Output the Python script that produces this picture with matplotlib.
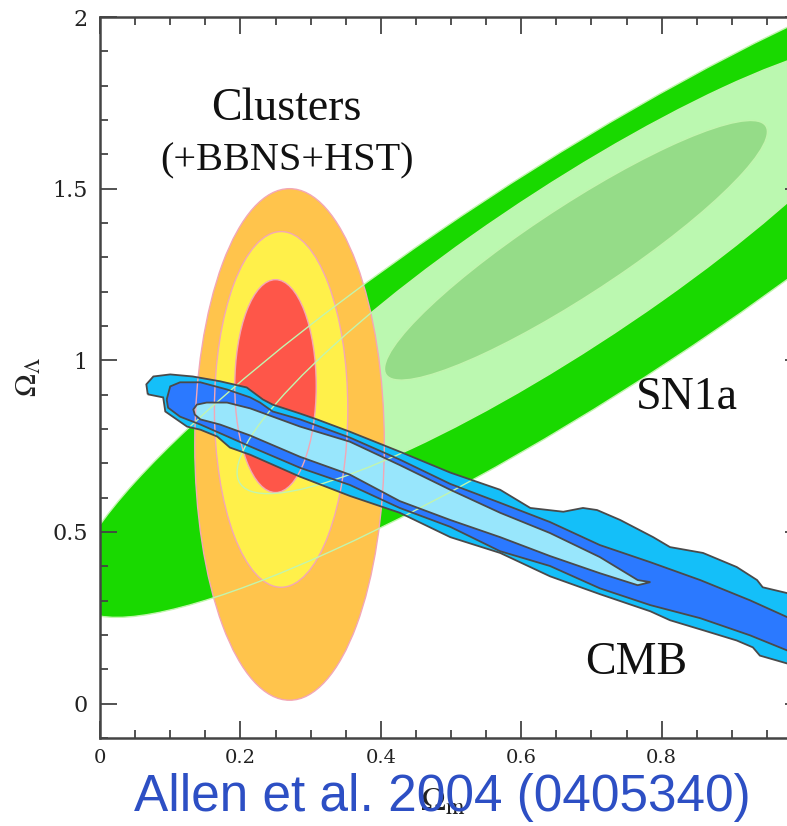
import matplotlib

matplotlib.use("Agg")
import matplotlib.pyplot as plt
from matplotlib.patches import Ellipse, Polygon
from matplotlib.ticker import MultipleLocator

# SN1a confidence regions (outer, middle, inner) as ellipses
SN_CX = [0.68, 0.665, 0.678]
SN_CY = [1.232, 1.268, 1.3205]
SN_SEMI_MAJOR = [1.192, 0.790, 0.457]
SN_SEMI_MINOR = [0.244, 0.165, 0.092]
SN_ANGLE = [54.5, 55.3, 55.0]
SN_COLORS = ["#19d900", "#bbf8b0", "#95dc88"]

# Cluster (+BBNS+HST) regions: vertical ellipses
CL_CX = [0.27, 0.258, 0.25]
CL_CY = [0.755, 0.857, 0.925]
CL_HALF_W = [0.135, 0.095, 0.058]
CL_HALF_H = [0.745, 0.518, 0.31]
CL_COLORS = ["#ffc44c", "#fff04a", "#fe5649"]

# CMB contours
CMB_OUTER_X = [0.068, 0.066, 0.076, 0.100, 0.132, 0.171, 0.209, 0.232, 0.246, 0.285,
               0.309, 0.356, 0.427, 0.499, 0.570, 0.613, 0.660, 0.688, 0.708, 0.741,
               0.788, 0.812, 0.859, 0.907, 0.936, 0.944, 0.979, 1.004, 1.004, 0.979,
               0.940, 0.930, 0.907, 0.859, 0.812, 0.784, 0.712, 0.641, 0.570, 0.499,
               0.427, 0.356, 0.285, 0.214, 0.185, 0.167, 0.143, 0.124, 0.093, 0.090]
CMB_OUTER_Y = [0.901, 0.930, 0.953, 0.959, 0.953, 0.939, 0.921, 0.886, 0.871, 0.845,
               0.828, 0.792, 0.734, 0.673, 0.623, 0.570, 0.559, 0.570, 0.564, 0.535,
               0.485, 0.456, 0.439, 0.398, 0.360, 0.339, 0.322, 0.295, 0.094, 0.117,
               0.140, 0.164, 0.184, 0.214, 0.243, 0.269, 0.319, 0.371, 0.439, 0.485,
               0.556, 0.605, 0.661, 0.725, 0.746, 0.778, 0.798, 0.807, 0.851, 0.892]

CMB_MID_X = [0.095, 0.100, 0.114, 0.143, 0.181, 0.214, 0.228, 0.246, 0.285, 0.356,
             0.427, 0.499, 0.570, 0.641, 0.712, 0.784, 0.855, 0.926, 0.979, 1.004,
             1.004, 0.979, 0.926, 0.855, 0.784, 0.712, 0.641, 0.570, 0.499, 0.427,
             0.356, 0.285, 0.214, 0.143, 0.124, 0.114, 0.097]
CMB_MID_Y = [0.886, 0.924, 0.936, 0.936, 0.915, 0.892, 0.877, 0.851, 0.828, 0.775,
             0.711, 0.640, 0.585, 0.529, 0.462, 0.412, 0.360, 0.301, 0.252, 0.225,
             0.135, 0.155, 0.199, 0.249, 0.287, 0.336, 0.401, 0.444, 0.515, 0.570,
             0.637, 0.687, 0.749, 0.813, 0.828, 0.836, 0.862]

CMB_INNER_X = [0.133, 0.138, 0.152, 0.181, 0.214, 0.285, 0.356, 0.427, 0.499, 0.570,
               0.641, 0.712, 0.766, 0.784, 0.766, 0.712, 0.641, 0.570, 0.499, 0.427,
               0.356, 0.285, 0.214, 0.171, 0.143, 0.135]
CMB_INNER_Y = [0.857, 0.871, 0.877, 0.877, 0.860, 0.807, 0.763, 0.695, 0.623, 0.556,
               0.497, 0.427, 0.360, 0.354, 0.345, 0.380, 0.430, 0.485, 0.535, 0.590,
               0.667, 0.719, 0.781, 0.813, 0.828, 0.842]
CMB_COLORS = ["#14bff9", "#2b79ff", "#98e6fc"]

LABELS = ["Clusters", "(+BBNS+HST)", "SN1a", "CMB"]
LABEL_X = [0.266, 0.266, 0.836, 0.764]
LABEL_Y = [1.733, 1.58, 0.892, 0.12]
LABEL_SIZE = [33, 29, 33, 33]

plt.rcParams["mathtext.fontset"] = "stix"

fig = plt.figure(figsize=(7.87, 8.26), dpi=100)
ax = fig.add_axes([100 / 787, 88 / 826, 702 / 787, 721 / 826])
ax.set_xlim(0, 1)
ax.set_ylim(-0.1, 2.0)

sn_patches = []
for cx, cy, a, b, ang, col in zip(SN_CX, SN_CY, SN_SEMI_MAJOR, SN_SEMI_MINOR, SN_ANGLE, SN_COLORS):
    ax.add_patch(Ellipse((cx, cy), 2 * a, 2 * b, angle=ang, facecolor=col, edgecolor="none", zorder=1))
    sn_patches.append((cx, cy, a, b, ang))

for cx, cy, w, h, col in zip(CL_CX, CL_CY, CL_HALF_W, CL_HALF_H, CL_COLORS):
    ax.add_patch(Ellipse((cx, cy), 2 * w, 2 * h, facecolor=col, edgecolor="none", zorder=2))

cmb = [(CMB_OUTER_X, CMB_OUTER_Y), (CMB_MID_X, CMB_MID_Y), (CMB_INNER_X, CMB_INNER_Y)]
for (xs, ys), col in zip(cmb, CMB_COLORS):
    ax.add_patch(Polygon(list(zip(xs, ys)), closed=True, facecolor=col, edgecolor="none", zorder=3))

# contour outlines drawn over all fills
for cx, cy, w, h in zip(CL_CX, CL_CY, CL_HALF_W, CL_HALF_H):
    ax.add_patch(Ellipse((cx, cy), 2 * w, 2 * h, facecolor="none", edgecolor="#f3a7b6", lw=1.0, zorder=4))
for cx, cy, a, b, ang in sn_patches:
    ax.add_patch(Ellipse((cx, cy), 2 * a, 2 * b, angle=ang, facecolor="none", edgecolor="#c2f5ae", lw=1.0, zorder=4))
for xs, ys in cmb:
    ax.add_patch(Polygon(list(zip(xs, ys)), closed=True, facecolor="none", edgecolor="#4a4a4a", lw=1.3, zorder=5))

for txt, x, y, s in zip(LABELS, LABEL_X, LABEL_Y, LABEL_SIZE):
    ax.text(x, y, txt, ha="center", va="center", fontsize=s, family="Liberation Serif", color="#111111", zorder=6)

ax.xaxis.set_major_locator(MultipleLocator(0.2))
ax.xaxis.set_minor_locator(MultipleLocator(0.05))
ax.yaxis.set_major_locator(MultipleLocator(0.5))
ax.yaxis.set_minor_locator(MultipleLocator(0.1))
ax.set_xticks([0, 0.2, 0.4, 0.6, 0.8])
ax.set_xticklabels(["0", "0.2", "0.4", "0.6", "0.8"])
ax.set_yticks([0, 0.5, 1, 1.5, 2])
ax.set_yticklabels(["0", "0.5", "1", "1.5", "2"])
ax.tick_params(which="both", direction="in", top=True, right=True, colors="#444444",
               labelcolor="#222222", labelsize=16, width=1.3)
ax.tick_params(which="major", length=12)
ax.tick_params(which="minor", length=6)
ax.tick_params(axis="x", pad=8, labelsize=14)
ax.tick_params(axis="y", pad=9)
for lab in ax.get_xticklabels() + ax.get_yticklabels():
    lab.set_family("DejaVu Serif")
for sp in ax.spines.values():
    sp.set_color("#444444")
    sp.set_linewidth(1.8)
    sp.set_zorder(7)

fig.text(0.036, 0.543, r"$\Omega_\Lambda$", rotation=90, fontsize=22, ha="center", va="center", color="#222222")
fig.text(0.562, 0.030, r"$\Omega_{\rm m}$", fontsize=24, ha="center", va="center", color="#222222")
fig.text(0.5616, 0.0345, "Allen et al. 2004 (0405340)", fontsize=37, family="Liberation Sans",
         color="#2d4fc4", ha="center", va="center")

fig.savefig("out.png", dpi=100)
